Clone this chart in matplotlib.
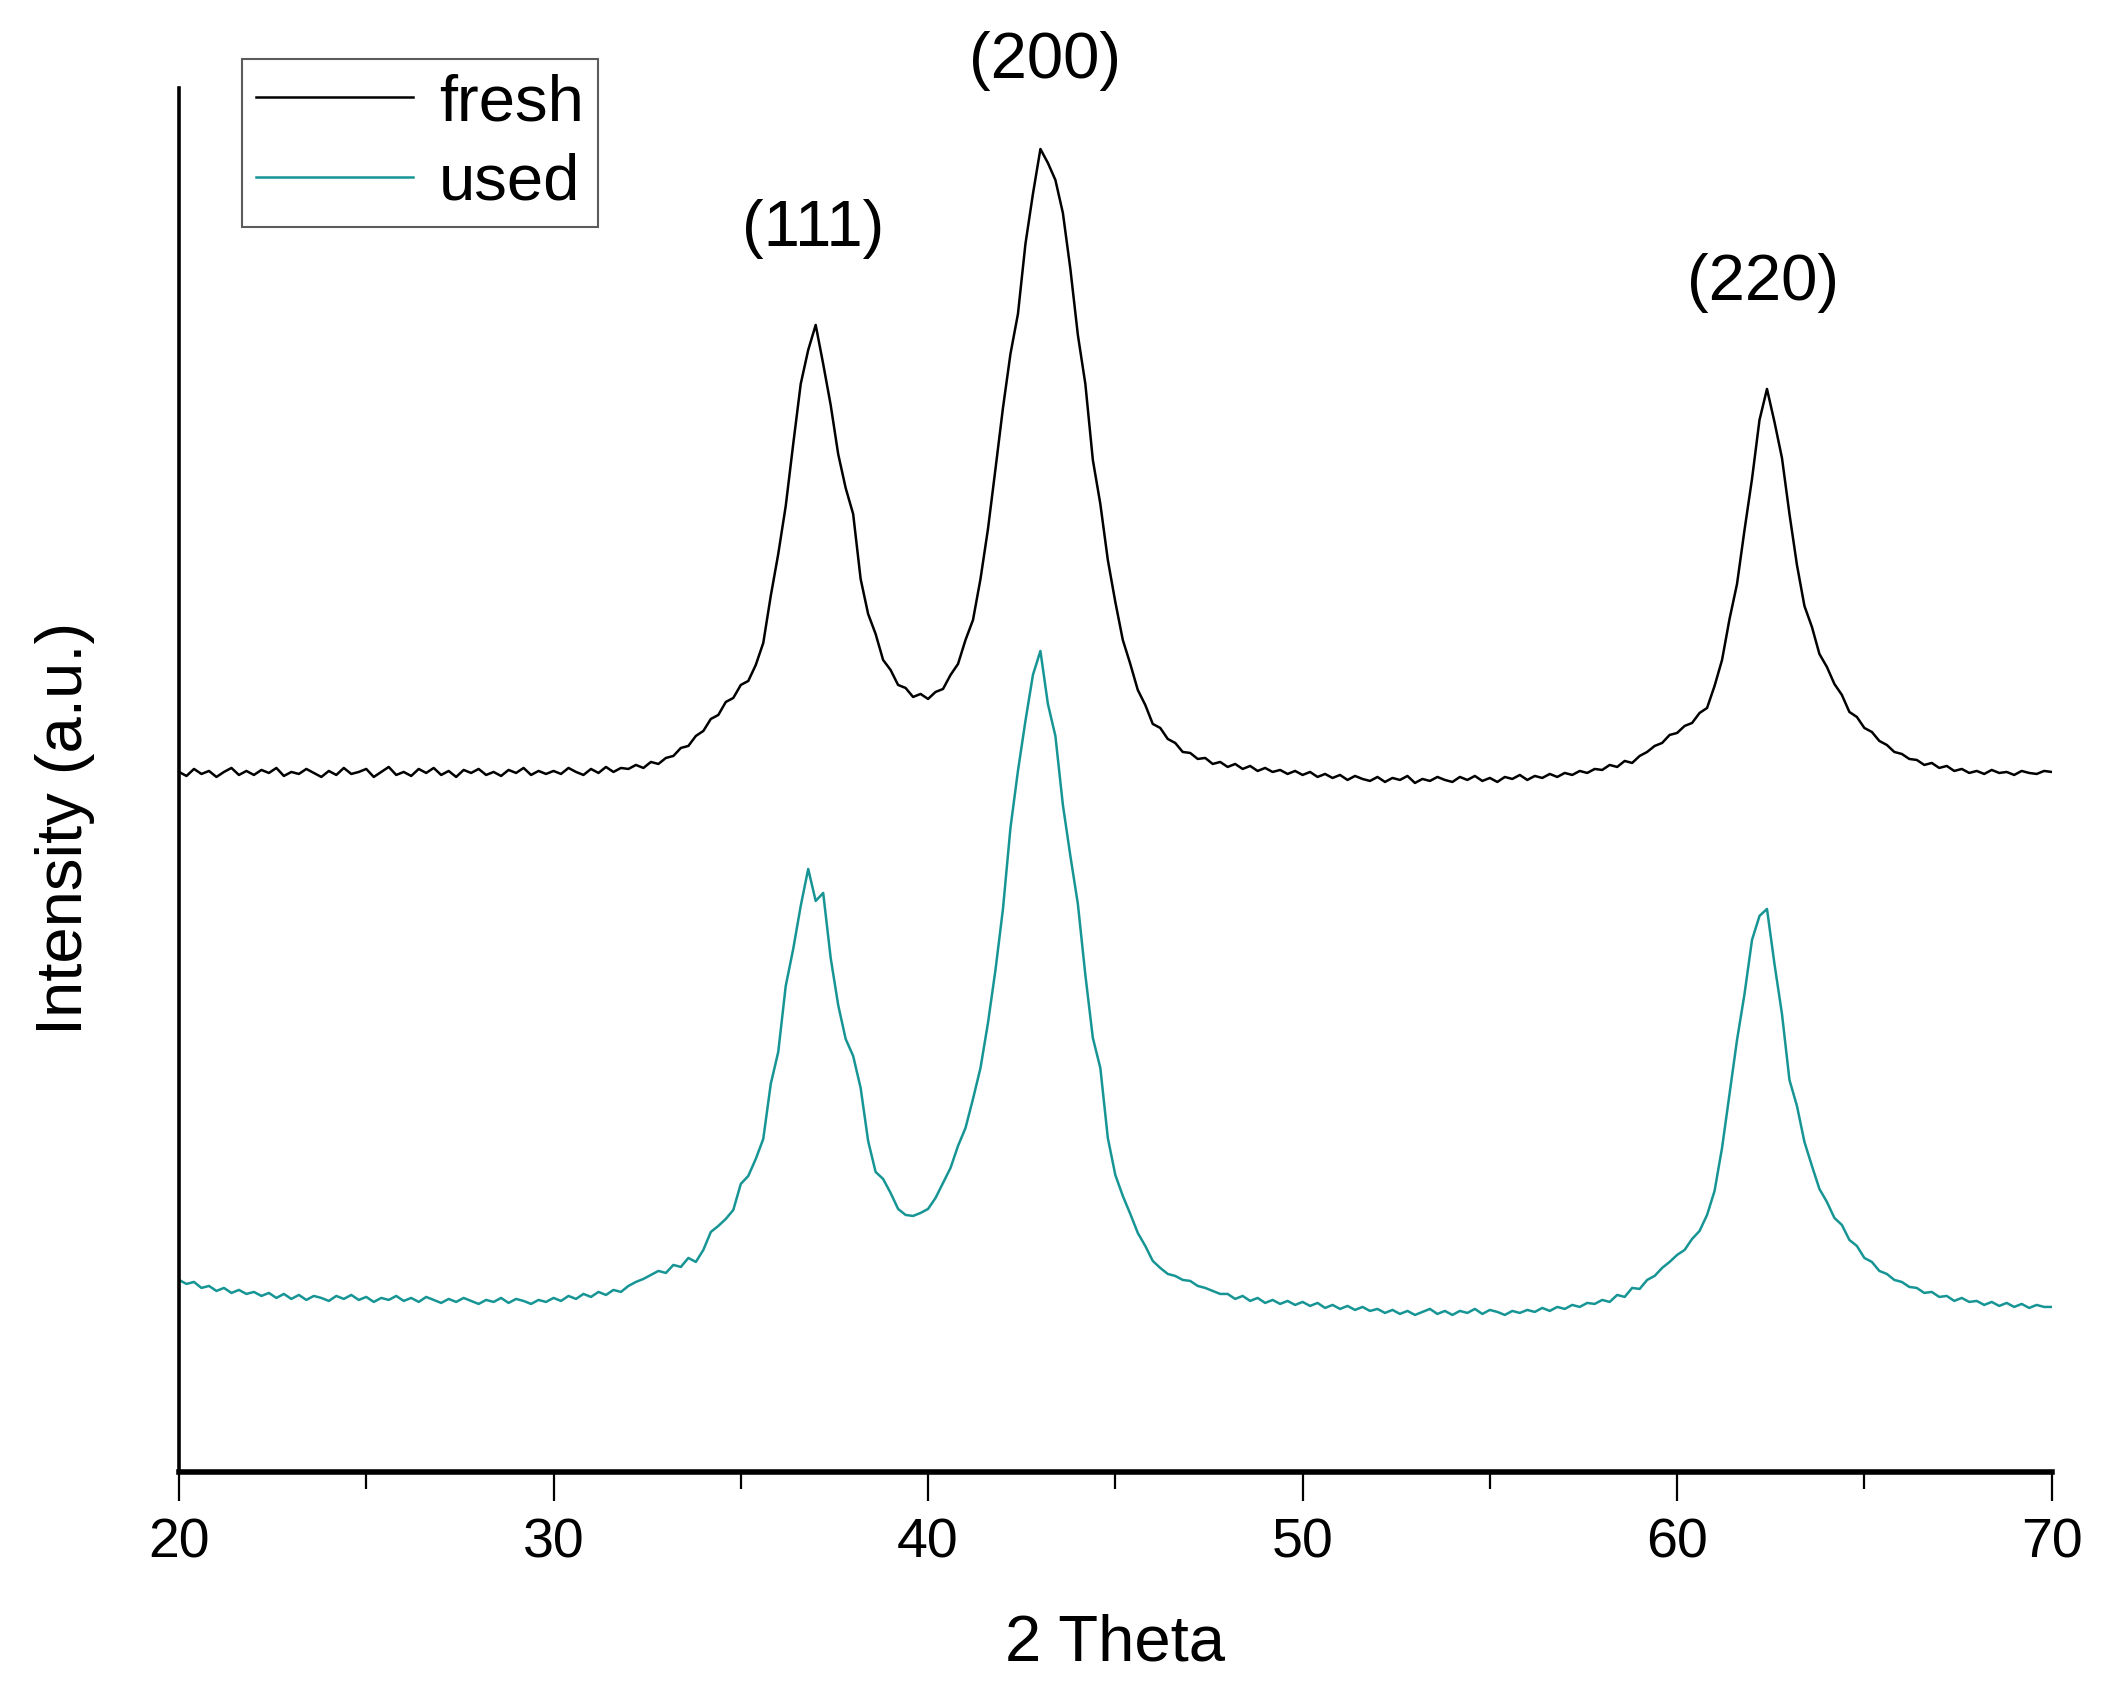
import numpy as np
import matplotlib
matplotlib.use('Agg')
import matplotlib.pyplot as plt
from matplotlib.ticker import MultipleLocator

plt.rcParams['font.family'] = ['Liberation Sans', 'DejaVu Sans']

# 2 theta grid, 0.2 degree steps from 20 to 70
two_theta = np.round(np.arange(20.0, 70.0001, 0.2), 1)

# intensities (arbitrary units), one row = 2 degrees
fresh = [
    700, 696, 703, 698, 701, 695, 700, 704, 697, 701,
    697, 702, 699, 704, 696, 700, 698, 703, 699, 695,
    701, 697, 704, 698, 700, 703, 695, 700, 705, 697,
    700, 696, 703, 699, 704, 697, 701, 695, 702, 699,
    703, 697, 700, 696, 702, 699, 704, 697, 701, 698,
    701, 698, 704, 700, 697, 703, 699, 705, 700, 704,
    703, 707, 704, 710, 708, 714, 716, 724, 726, 736,
    741, 753, 757, 770, 774, 787, 791, 807, 829, 876,
    918, 966, 1028, 1088, 1122, 1147, 1108, 1067, 1018, 984,
    958, 893, 858, 838, 812, 802, 787, 784, 775, 778,
    773, 780, 783, 797, 808, 832, 852, 893, 943, 1003,
    1064, 1118, 1158, 1228, 1278, 1323, 1309, 1292, 1259, 1203,
    1137, 1088, 1012, 968, 912, 870, 832, 808, 782, 767,
    748, 744, 733, 729, 720, 719, 713, 714, 708, 710,
    705, 708, 703, 706, 701, 704, 700, 702, 698, 701,
    697, 700, 695, 698, 694, 697, 692, 696, 693, 691,
    695, 690, 694, 692, 696, 689, 693, 691, 695, 692,
    690, 695, 692, 696, 691, 694, 690, 695, 693, 697,
    692, 696, 694, 698, 695, 699, 697, 701, 699, 703,
    702, 707, 705, 711, 709, 716, 720, 726, 729, 737,
    739, 746, 749, 759, 764, 786, 812, 853, 888, 942,
    993, 1052, 1083, 1050, 1014, 958, 907, 866, 845, 818,
    805, 788, 777, 760, 755, 744, 740, 731, 727, 720,
    718, 713, 712, 707, 709, 704, 706, 701, 703, 699,
    701, 698, 702, 699, 700, 697, 701, 699, 698, 701,
    700,
]

used = [
    192, 188, 190, 184, 186, 181, 184, 179, 182, 178,
    180, 176, 179, 174, 178, 173, 177, 172, 176, 174,
    171, 176, 173, 177, 172, 175, 170, 174, 172, 176,
    171, 174, 170, 175, 172, 169, 173, 170, 174, 171,
    168, 172, 170, 174, 169, 173, 171, 168, 172, 170,
    174, 171, 176, 173, 178, 175, 180, 177, 182, 180,
    186, 190, 193, 197, 201, 199, 207, 205, 214, 210,
    222, 240, 246, 253, 262, 288, 296, 313, 333, 388,
    420, 486, 523, 566, 603, 571, 579, 514, 467, 433,
    416, 384, 331, 300, 293, 279, 263, 257, 256, 259,
    263, 274, 289, 304, 326, 344, 373, 404, 449, 502,
    563, 644, 701, 751, 797, 821, 768, 736, 667, 616,
    568, 497, 434, 404, 334, 297, 276, 258, 239, 226,
    211, 204, 198, 196, 192, 191, 186, 184, 181, 178,
    178, 173, 176, 171, 174, 169, 172, 168, 171, 167,
    170, 166, 169, 164, 167, 163, 166, 162, 165, 161,
    163, 159, 162, 158, 161, 157, 160, 163, 158, 161,
    157, 161, 159, 163, 158, 162, 160, 157, 161, 159,
    162, 160, 164, 161, 165, 163, 167, 165, 169, 168,
    172, 170, 177, 175, 184, 183, 192, 196, 204, 210,
    217, 222, 233, 241, 257, 281, 324, 378, 432, 478,
    532, 556, 563, 508, 458, 392, 366, 330, 306, 283,
    270, 254, 247, 232, 226, 214, 210, 201, 198, 192,
    190, 185, 184, 179, 180, 175, 176, 171, 174, 170,
    171, 167, 170, 166, 169, 165, 168, 164, 167, 165,
    165,
]

peak_labels = ['(111)', '(200)', '(220)']
peak_x = [36.93, 43.12, 62.3]
peak_y = [1243, 1411, 1189]

fig = plt.figure(figsize=(21.01, 17.05), dpi=100)
ax = fig.add_axes([0.0852, 0.1367, 0.8913, 0.8117])

ax.plot(two_theta, fresh, color='black', lw=1.8, label='fresh')
ax.plot(two_theta, used, color='#179595', lw=1.8, label='used')

ax.set_xlim(20, 70)
ax.set_ylim(0, 1384)

for lab, x, y in zip(peak_labels, peak_x, peak_y):
    ax.text(x, y, lab, fontsize=47, ha='center', va='center', clip_on=False)

# only left and bottom axis lines
ax.spines['top'].set_visible(False)
ax.spines['right'].set_visible(False)
ax.spines['left'].set_linewidth(2.6)
ax.spines['bottom'].set_linewidth(4)
ax.set_yticks([])
ax.xaxis.set_major_locator(MultipleLocator(10))
ax.xaxis.set_minor_locator(MultipleLocator(5))
ax.tick_params(axis='x', which='major', direction='out', length=21, width=1.6,
               labelsize=40, pad=12)
ax.tick_params(axis='x', which='minor', direction='out', length=12, width=1.6)

ax.set_xlabel('2 Theta', fontsize=47)
ax.xaxis.set_label_coords(0.5, -0.124)
ax.xaxis.label.set_va('center')
ax.set_ylabel('Intensity (a.u.)', fontsize=47)
ax.yaxis.set_label_coords(-0.061, 0.465)
ax.yaxis.label.set_va('center')

leg = ax.legend(loc='upper left', bbox_to_anchor=(0.0335, 1.021), fontsize=47,
                frameon=True, fancybox=False, borderaxespad=0, borderpad=0.22,
                handlelength=2.4, handletextpad=0.4, labelspacing=0.3)
leg.get_frame().set_edgecolor('#333333')
leg.get_frame().set_linewidth(1.5)
for line in leg.get_lines():
    line.set_linewidth(1.8)

fig.savefig('out.png', dpi=100)
